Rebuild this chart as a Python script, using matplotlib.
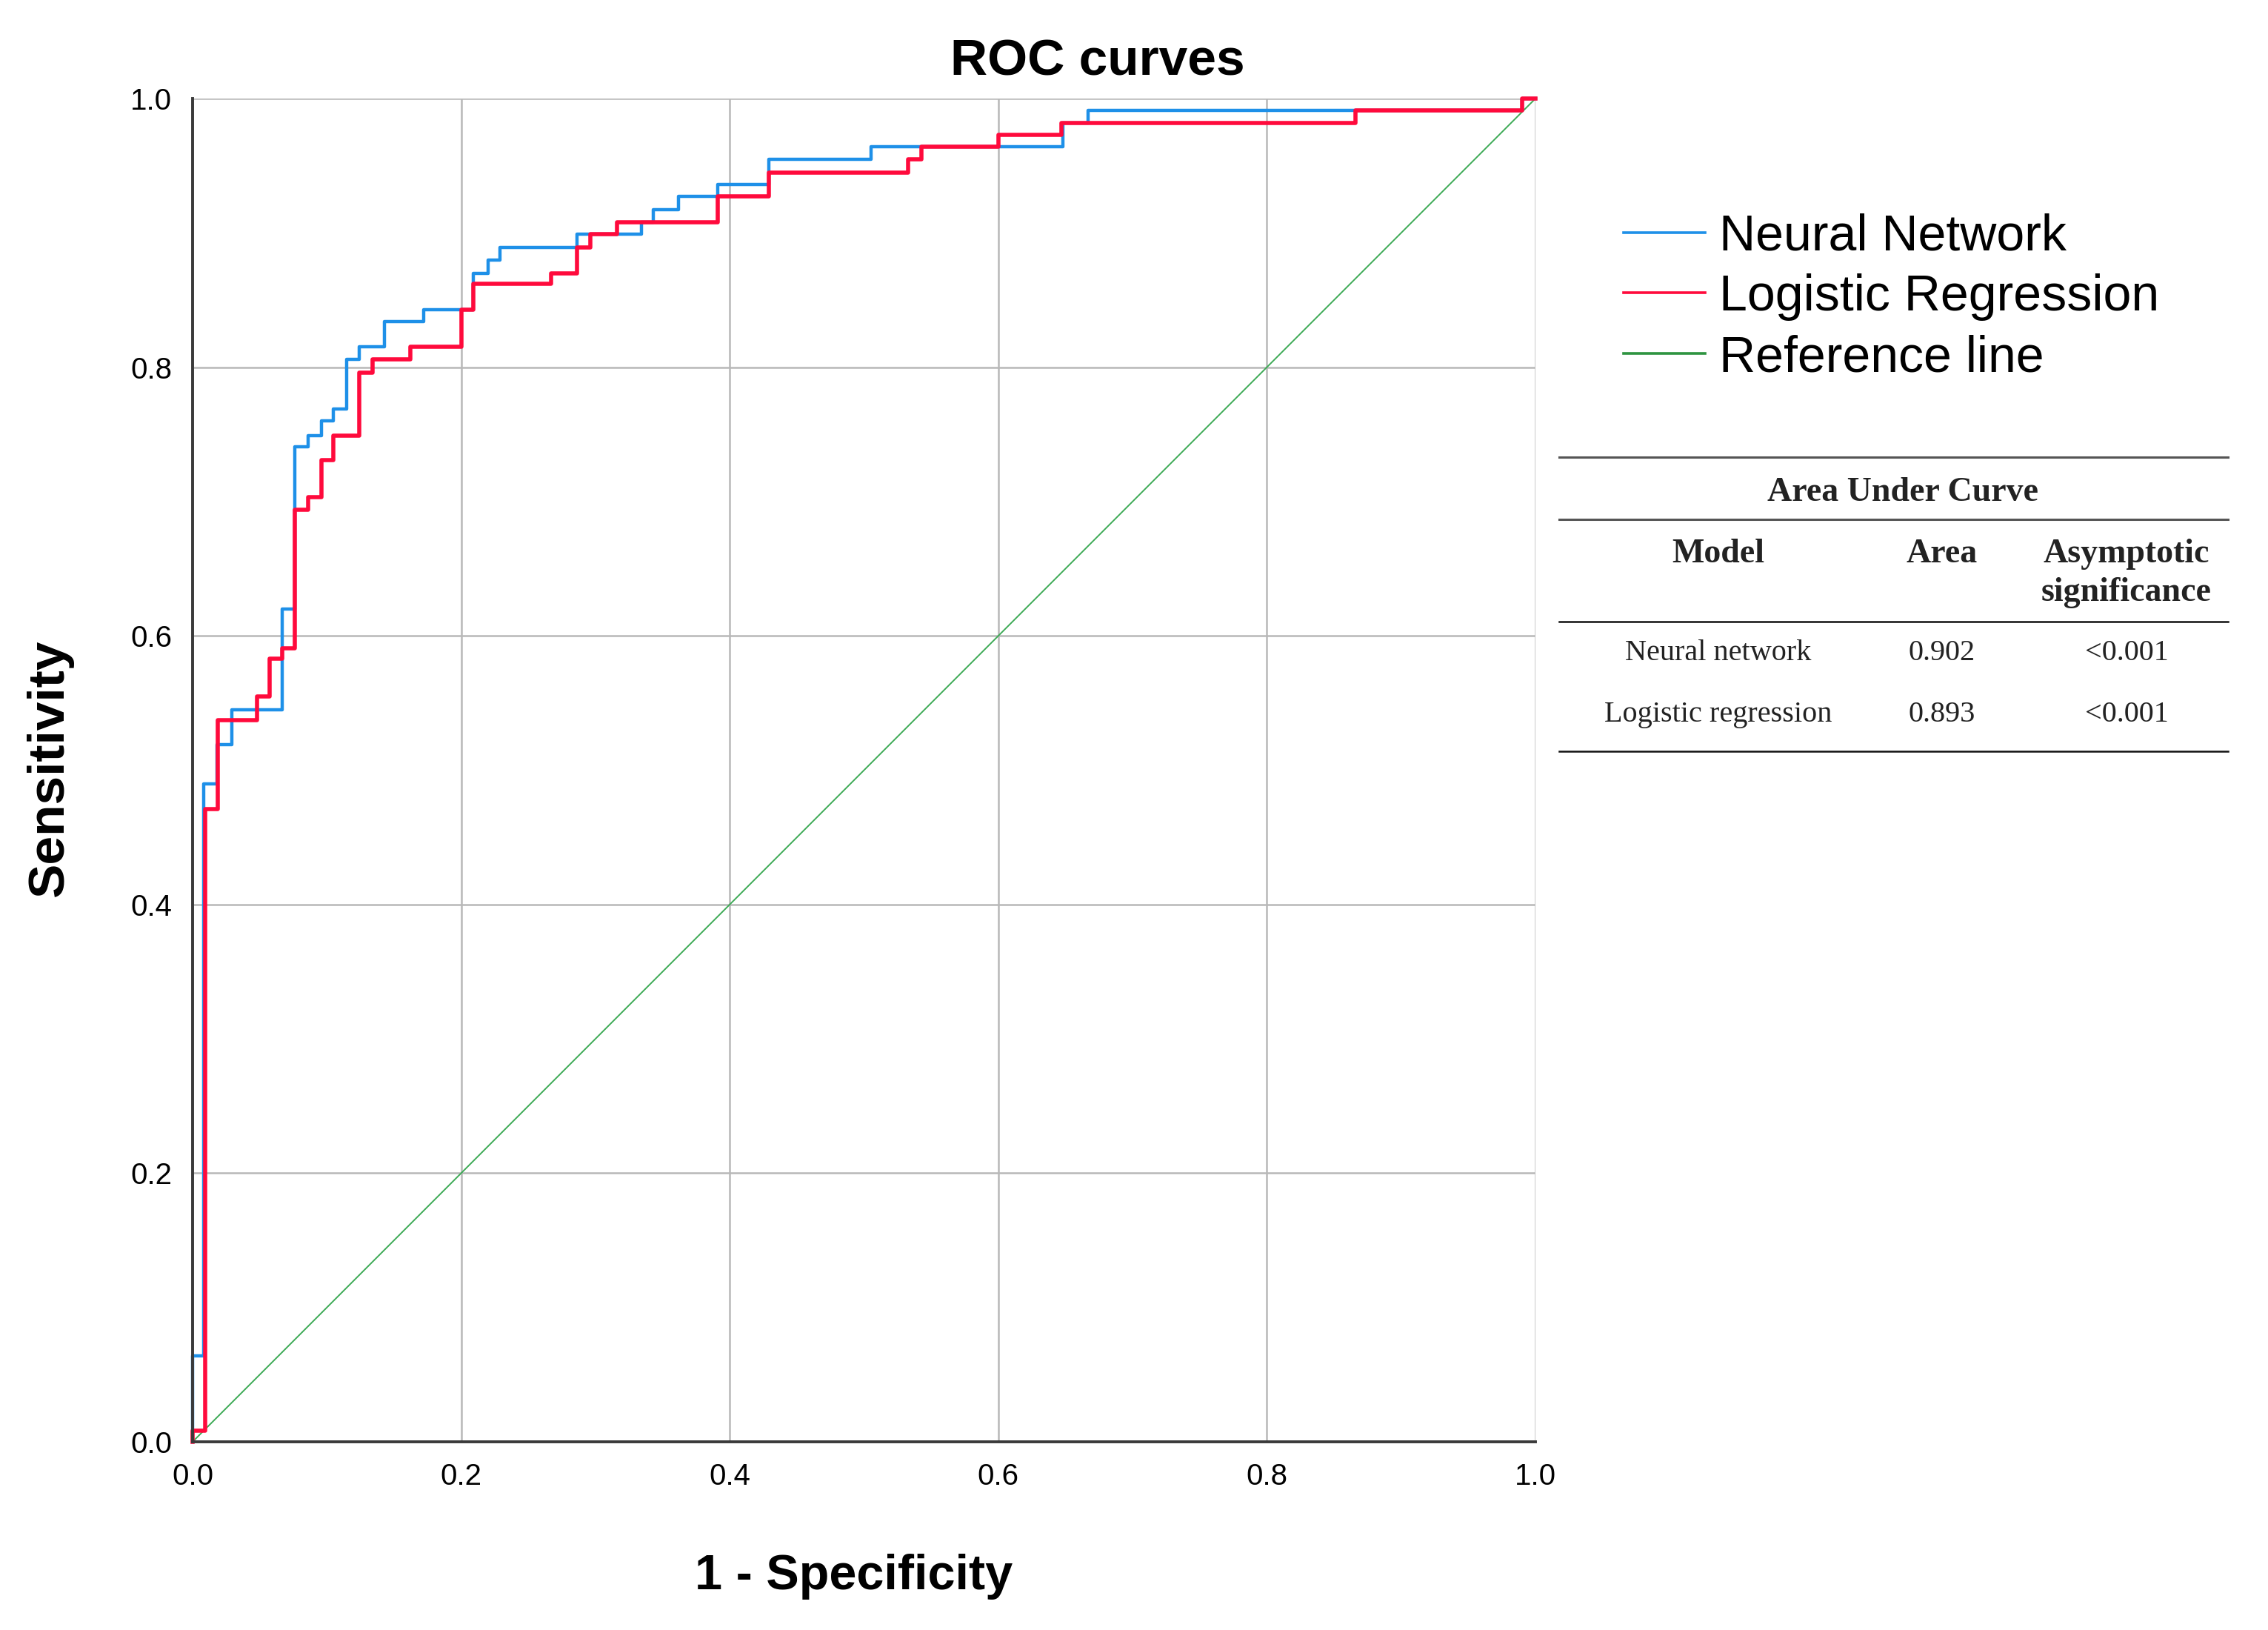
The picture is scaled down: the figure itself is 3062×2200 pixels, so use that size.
import matplotlib
matplotlib.use("Agg")
import matplotlib.pyplot as plt
from matplotlib.lines import Line2D

plt.rcParams['font.family'] = ['Liberation Sans', 'DejaVu Sans']

# ROC step data: x where the curve rises, tpr level after the rise
nn_fpr = [0.0, 0.0, 0.008, 0.018, 0.029, 0.067, 0.076, 0.086, 0.096, 0.105,
          0.115, 0.124, 0.143, 0.172, 0.209, 0.220, 0.229, 0.286, 0.334, 0.343,
          0.362, 0.391, 0.429, 0.505, 0.648, 0.667, 0.990, 1.0]
nn_tpr = [0.0, 0.064, 0.490, 0.519, 0.545, 0.620, 0.741, 0.749, 0.760, 0.769,
          0.806, 0.815, 0.834, 0.843, 0.870, 0.880, 0.889, 0.899, 0.908, 0.917,
          0.927, 0.936, 0.955, 0.964, 0.982, 0.991, 1.0, 1.0]

lr_fpr = [0.0, 0.0, 0.0096, 0.019, 0.048, 0.0575, 0.067, 0.076, 0.086, 0.096,
          0.105, 0.124, 0.134, 0.162, 0.200, 0.209, 0.267, 0.286, 0.296, 0.316,
          0.391, 0.429, 0.533, 0.543, 0.600, 0.647, 0.866, 0.990, 1.0]
lr_tpr = [0.0, 0.008, 0.471, 0.537, 0.555, 0.583, 0.591, 0.694, 0.703, 0.731,
          0.749, 0.796, 0.806, 0.815, 0.843, 0.862, 0.870, 0.889, 0.899, 0.908,
          0.927, 0.945, 0.955, 0.964, 0.973, 0.982, 0.991, 1.0, 1.0]

ref_x = [0.0, 1.0]
ref_y = [0.0, 1.0]

ticks = [0.0, 0.2, 0.4, 0.6, 0.8, 1.0]
tick_labels = ["0.0", "0.2", "0.4", "0.6", "0.8", "1.0"]

legend_labels = ["Neural Network", "Logistic Regression", "Reference line"]

table_title = "Area Under Curve"
table_header = ["Model", "Area", "Asymptotic", "significance"]
table_models = ["Neural network", "Logistic regression"]
table_area = ["0.902", "0.893"]
table_sig = ["<0.001", "<0.001"]

blue = '#1E90E8'
red = '#FF0A3C'
green = '#3DAA55'

W, H = 3062, 2200
fig = plt.figure(figsize=(W / 200, H / 200), dpi=200)

def fx(px):
    return px / W

def fy(py):
    return 1 - py / H

ax = fig.add_axes([fx(260), fy(1946), fx(2073) - fx(260), fy(133) - fy(1946)])

ax.plot(ref_x, ref_y, color=green, lw=0.7, zorder=2)
ax.plot(nn_fpr, nn_tpr, drawstyle='steps-post', color=blue, lw=1.6, zorder=3, clip_on=False)
ax.plot(lr_fpr, lr_tpr, drawstyle='steps-post', color=red, lw=2.0, zorder=4, clip_on=False)

ax.set_xlim(0, 1)
ax.set_ylim(0, 1)
ax.set_xticks(ticks)
ax.set_xticklabels(tick_labels)
ax.set_yticks(ticks)
ax.set_yticklabels(tick_labels)
ax.tick_params(length=0, labelsize=14.5, pad=10)
ax.grid(True, color='#b8b8b8', lw=0.9)
ax.set_axisbelow(True)
for s in ['top', 'right']:
    ax.spines[s].set_visible(False)
for s in ['left', 'bottom']:
    ax.spines[s].set_color('#3a3a3a')
    ax.spines[s].set_linewidth(1.4)
    ax.spines[s].set_zorder(5)

fig.text(0.484, fy(102), "ROC curves", ha='center', va='baseline',
         fontsize=25, fontweight='bold')
fig.text(fx(1153), fy(2145), "1 - Specificity", ha='center', va='baseline',
         fontsize=24, fontweight='bold')
fig.text(fx(85), fy(1036), "Sensitivity", ha='center', va='baseline',
         rotation=90, rotation_mode='anchor', fontsize=25, fontweight='bold')

# legend drawn by hand to the right of the plot
leg_colors = [blue, red, '#2E9440']
leg_rows = [314, 395, 477]
for lab, col, ry in zip(legend_labels, leg_colors, leg_rows):
    fig.add_artist(Line2D([fx(2192), fx(2302)], [fy(ry), fy(ry)], color=col, lw=1.3))
    fig.text(fx(2321), fy(ry + 24), lab, ha='left', va='baseline', fontsize=24.5)

# AUC table
serif = ['Liberation Serif', 'DejaVu Serif']
tx0, tx1 = 2105, 3008
for ly, col, lw in [(617, '#555555', 1.1), (701, '#555555', 1.1),
                    (839, '#111111', 0.9), (1014, '#111111', 0.9)]:
    fig.add_artist(Line2D([fx(tx0), fx(tx1)], [fy(ly), fy(ly)], color=col, lw=lw))

col_x = [2320, 2622, 2871]
bold_kw = dict(ha='center', va='baseline', family=serif, fontsize=16.5,
               fontweight='bold', color='#222222')
fig.text(fx(2569), fy(676), table_title, **bold_kw)
fig.text(fx(col_x[0]), fy(759), table_header[0], **bold_kw)
fig.text(fx(col_x[1]), fy(759), table_header[1], **bold_kw)
fig.text(fx(col_x[2]), fy(759), table_header[2], **bold_kw)
fig.text(fx(col_x[2]), fy(811), table_header[3], **bold_kw)

body_kw = dict(ha='center', va='baseline', family=serif, fontsize=14.5, color='#222222')
for i, ry in enumerate([891, 974]):
    fig.text(fx(col_x[0]), fy(ry), table_models[i], **body_kw)
    fig.text(fx(col_x[1]), fy(ry), table_area[i], **body_kw)
    fig.text(fx(col_x[2]), fy(ry), table_sig[i], **body_kw)

fig.savefig("out.png", dpi=200)
